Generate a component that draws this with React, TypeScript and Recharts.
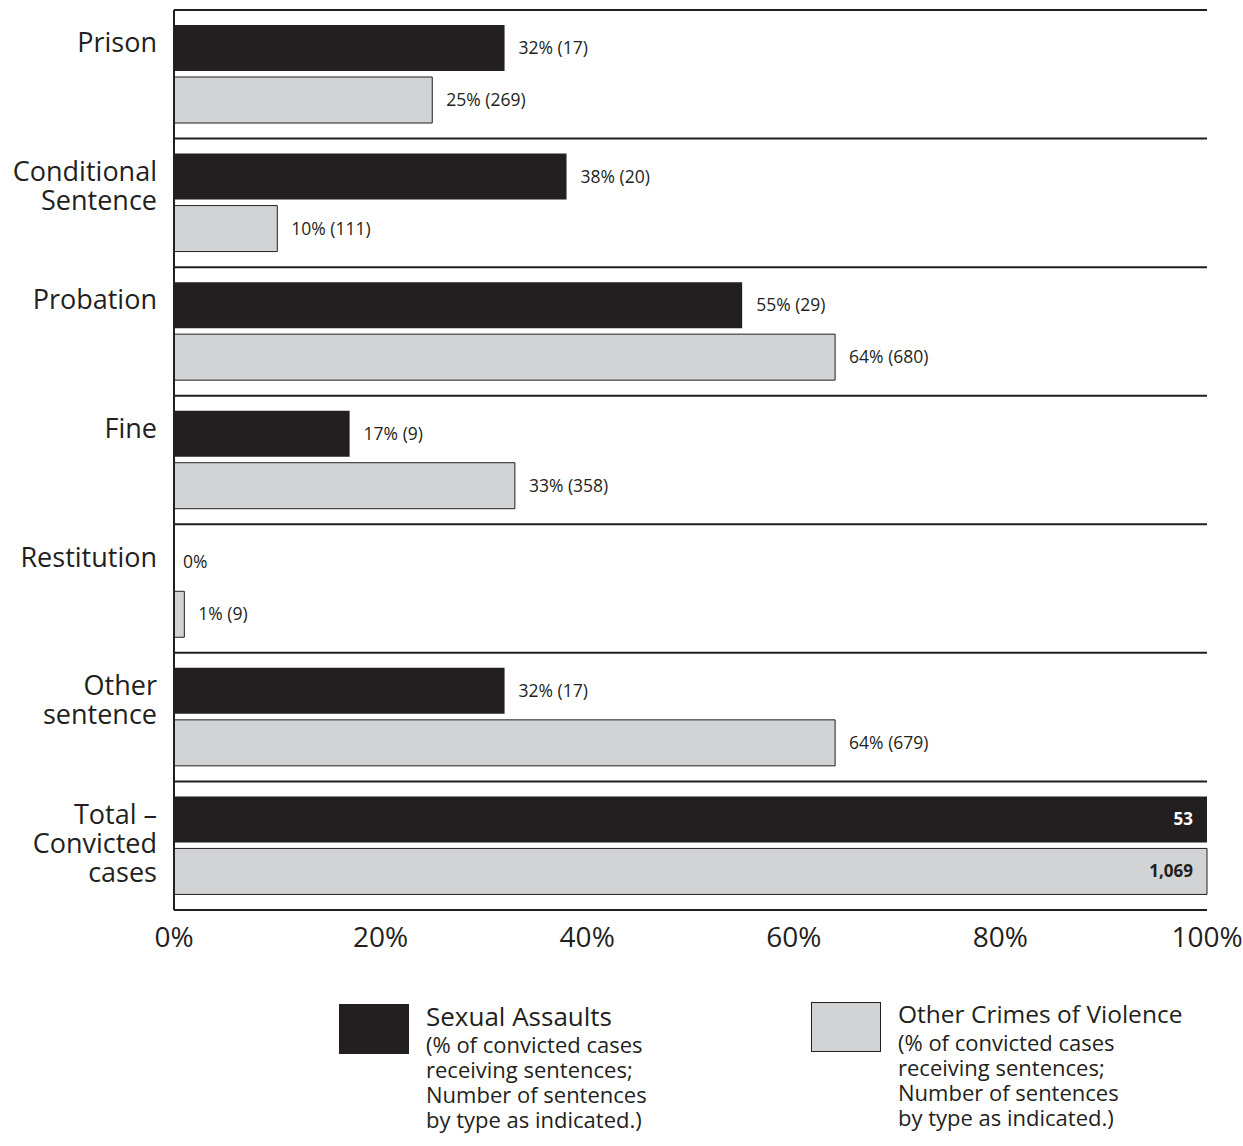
import React from 'react';
import { BarChart, Bar, XAxis, YAxis, ReferenceLine, LabelList } from 'recharts';

// categories and values
const categories = [
  ['Prison'],
  ['Conditional', 'Sentence'],
  ['Probation'],
  ['Fine'],
  ['Restitution'],
  ['Other', 'sentence'],
  ['Total –', 'Convicted', 'cases'],
];
const sexualPct = [32, 38, 55, 17, 0, 32, 100];
const otherPct = [25, 10, 64, 33, 1, 64, 100];
const sexualLabels = ['32% (17)', '38% (20)', '55% (29)', '17% (9)', '0%', '32% (17)', '53'];
const otherLabels = ['25% (269)', '10% (111)', '64% (680)', '33% (358)', '1% (9)', '64% (679)', '1,069'];
const xTicks = [0, 20, 40, 60, 80, 100];

const INK = '#231f20';
const GREY = '#d1d3d4';
const FONT = '"Open Sans", "Noto Sans", sans-serif';

const data = categories.map((lines, i) => ({
  name: lines.join(' '),
  lines,
  sexual: sexualPct[i],
  other: otherPct[i],
  sexualLabel: sexualLabels[i],
  otherLabel: otherLabels[i],
}));

const lastRow = data[data.length - 1];
// totals row shows counts inside the bar end
const insideLabels = [lastRow.sexualLabel, lastRow.otherLabel];

const CategoryTick = (props: any) => {
  const { x, y, payload } = props;
  const row = data.find((d) => d.name === payload.value);
  const lines = row ? row.lines : [payload.value];
  return (
    <g>
      {lines.map((l: string, i: number) => (
        <text key={i} x={x} y={y - 22 + i * 29} textAnchor="end" fill={INK} fontSize={27} fontFamily={FONT}>
          {l}
        </text>
      ))}
    </g>
  );
};

const makeLabel = (insideColor: string) => (props: any) => {
  const { x, y, width, height, value } = props;
  if (insideLabels.includes(value) && width > 100) {
    return (
      <text x={x + width - 14} y={y + height / 2} dy={6} textAnchor="end" fill={insideColor}
        fontSize={17} fontWeight={700} fontFamily={FONT}>{value}</text>
    );
  }
  const gap = width < 3 ? 8 : 14;
  return (
    <text x={x + width + gap} y={y + height / 2} dy={6} textAnchor="start" fill={INK}
      fontSize={17.5} fontFamily={FONT}>{value}</text>
  );
};

const LegendItem = ({ fill, title, left, top, titleSize }: any) => (
  <div style={{ position: 'absolute', left, top, display: 'flex', fontFamily: FONT, color: INK }}>
    <div style={{ width: 70, height: 50, background: fill, border: `1px solid ${INK}`, boxSizing: 'border-box', marginTop: 4 }} />
    <div style={{ marginLeft: 17 }}>
      <div style={{ fontSize: titleSize, lineHeight: '32px' }}>{title}</div>
      <div style={{ fontSize: 22, lineHeight: '25px' }}>
        (% of convicted cases<br />receiving sentences;<br />Number of sentences<br />by type as indicated.)
      </div>
    </div>
  </div>
);

export default function App() {
  return (
    <div style={{ position: 'absolute', left: 0, top: 0, width: 1243, height: 1146, background: '#fff' }}>
      <BarChart
        width={1243}
        height={1146}
        data={data}
        layout="vertical"
        margin={{ top: 10, right: 36, left: 0, bottom: 206 }}
        barSize={46}
        barGap={6}
      >
        {data.map((d) => (
          <ReferenceLine key={d.name} y={d.name} position="start" stroke={INK} strokeWidth={2} ifOverflow="visible" />
        ))}
        <ReferenceLine y={lastRow.name} position="end" stroke={INK} strokeWidth={2} ifOverflow="visible" />
        <Bar dataKey="sexual" fill={INK} minPointSize={1} isAnimationActive={false}>
          <LabelList dataKey="sexualLabel" content={makeLabel('#ffffff')} />
        </Bar>
        <Bar dataKey="other" fill={GREY} stroke={INK} strokeWidth={1} isAnimationActive={false}>
          <LabelList dataKey="otherLabel" content={makeLabel(INK)} />
        </Bar>
        <XAxis
          type="number"
          domain={[0, 100]}
          ticks={xTicks}
          tickFormatter={(v) => `${v}%`}
          axisLine={{ stroke: INK, strokeWidth: 2 }}
          tickLine={false}
          tickMargin={11}
          tick={{ fill: INK, fontSize: 28, fontFamily: FONT }}
          interval={0}
        />
        <YAxis
          type="category"
          dataKey="name"
          width={174}
          axisLine={{ stroke: INK, strokeWidth: 2 }}
          tickLine={false}
          tickMargin={11}
          tick={<CategoryTick />}
          interval={0}
        />
      </BarChart>
      <LegendItem fill={INK} title="Sexual Assaults" titleSize={26} left={339} top={1000} />
      <LegendItem fill={GREY} title="Other Crimes of Violence" titleSize={24.5} left={811} top={998} />
    </div>
  );
}
